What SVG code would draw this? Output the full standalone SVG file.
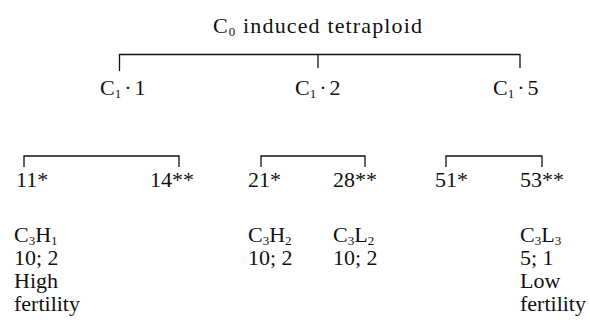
<svg xmlns="http://www.w3.org/2000/svg" width="590" height="322" viewBox="0 0 590 322">
<style>
text{font-family:"Liberation Serif","Times New Roman",serif;font-size:22px;fill:#111}
.sub{font-size:13px}
.ln{stroke:#111;stroke-width:1.3;fill:none}
</style>
<rect width="590" height="322" fill="#fff"/>
<g id="connectors">
<path class="ln" d="M119.5 71 V54.5 H520 V68 M318 54.5 V68"/>
<path class="ln" d="M24 167 V156 H179 V167"/>
<path class="ln" d="M261 167 V156 H365 V167"/>
<path class="ln" d="M446 167 V156 H542 V167"/>
</g>
<g id="root"><text x="213" y="33" textLength="209">C<tspan class="sub" dy="3">0</tspan><tspan dy="-3"> induced tetraploid</tspan></text></g>
<g id="c1-1"><text x="100" y="95">C<tspan class="sub" dy="3">1</tspan><tspan dy="-3" dx="3">·</tspan><tspan dx="3">1</tspan></text></g>
<g id="c1-2"><text x="295" y="95">C<tspan class="sub" dy="3">1</tspan><tspan dy="-3" dx="3">·</tspan><tspan dx="3">2</tspan></text></g>
<g id="c1-5"><text x="493" y="95">C<tspan class="sub" dy="3">1</tspan><tspan dy="-3" dx="3">·</tspan><tspan dx="3">5</tspan></text></g>
<g id="n11"><text x="16" y="187">11*</text></g>
<g id="n14"><text x="150" y="187">14**</text></g>
<g id="n21"><text x="248" y="187">21*</text></g>
<g id="n28"><text x="333" y="187">28**</text></g>
<g id="n51"><text x="435" y="187">51*</text></g>
<g id="n53"><text x="520" y="187">53**</text></g>
<g id="h1"><text x="14" y="242">C<tspan class="sub" dy="3">3</tspan><tspan dy="-3">H</tspan><tspan class="sub" dy="3">1</tspan></text><text x="14" y="265">10; 2</text><text x="14" y="288">High</text><text x="14" y="311">fertility</text></g>
<g id="h2"><text x="248" y="242">C<tspan class="sub" dy="3">3</tspan><tspan dy="-3">H</tspan><tspan class="sub" dy="3">2</tspan></text><text x="248" y="265">10; 2</text></g>
<g id="l2"><text x="333" y="242">C<tspan class="sub" dy="3">3</tspan><tspan dy="-3">L</tspan><tspan class="sub" dy="3">2</tspan></text><text x="333" y="265">10; 2</text></g>
<g id="l3"><text x="520" y="242">C<tspan class="sub" dy="3">3</tspan><tspan dy="-3">L</tspan><tspan class="sub" dy="3">3</tspan></text><text x="520" y="265">5; 1</text><text x="520" y="288">Low</text><text x="520" y="311">fertility</text></g>
</svg>
